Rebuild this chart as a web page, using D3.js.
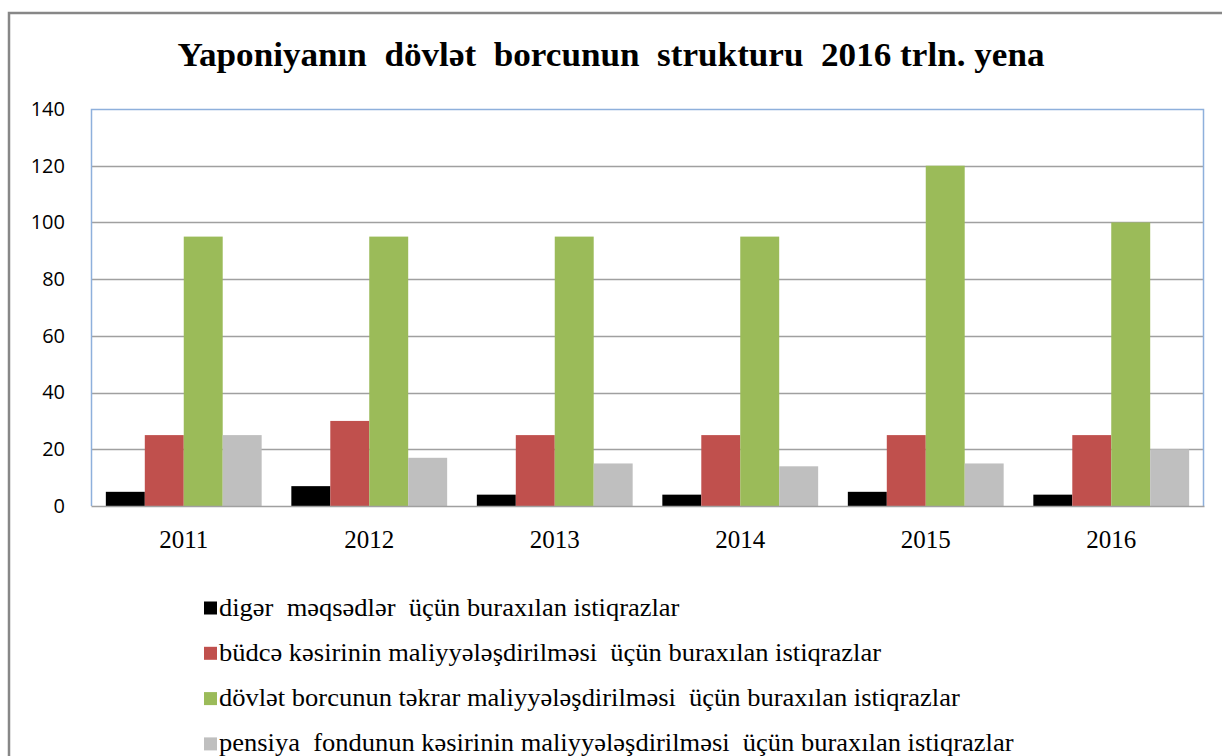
<!DOCTYPE html>
<html>
<head>
<meta charset="utf-8">
<script src="https://cdn.jsdelivr.net/npm/d3@7"></script>
<style>
  body { margin: 0; background: #fff; }
  svg { display: block; }
</style>
</head>
<body>
<svg id="chart" width="1222" height="756"></svg>
<script>
// illerin siyahisi
var years = ['2011', '2012', '2013', '2014', '2015', '2016'];
var seriesNames = [
  'digər  məqsədlər  üçün buraxılan istiqrazlar',
  'büdcə kəsirinin maliyyələşdirilməsi  üçün buraxılan istiqrazlar',
  'dövlət borcunun təkrar maliyyələşdirilməsi  üçün buraxılan istiqrazlar',
  'pensiya  fondunun kəsirinin maliyyələşdirilməsi  üçün buraxılan istiqrazlar'
];
var digerVals   = [5, 7, 4, 4, 5, 4];
var budceVals   = [25, 30, 25, 25, 25, 25];
var borcVals    = [95, 95, 95, 95, 120, 100];
var pensiyaVals = [25, 17, 15, 14, 15, 20];
var yTicks = [0, 20, 40, 60, 80, 100, 120, 140];
var colors = ['#000000', '#c0504d', '#9bbb59', '#bfbfbf'];

var seriesVals = [digerVals, budceVals, borcVals, pensiyaVals];
var serif = '"Liberation Serif", "Times New Roman", serif';

// ikiqat bosluqlari saxlamaq ucun
function nbsp(s) { return s.replace(/  /g, ' \u00a0'); }

var svg = d3.select('#chart');

// xarici cercive
svg.append('path')
  .attr('d', 'M9,760 L9,13 L1230,13')
  .attr('fill', 'none')
  .attr('stroke', '#878787')
  .attr('stroke-width', 2.5);

// basliq
svg.append('text')
  .attr('x', 611)
  .attr('y', 66)
  .attr('text-anchor', 'middle')
  .attr('font-weight', 'bold')
  .attr('font-size', 33)
  .attr('textLength', 867)
  .attr('lengthAdjust', 'spacingAndGlyphs')
  .style('font-family', serif)
  .text(nbsp('Yaponiyanın  dövlət  borcunun  strukturu  2016 trln. yena'));

var margin = {top: 109, left: 91},
  width = 1204 - 91,
  height = 506 - 109;

var x = d3.scaleBand()
  .domain(years)
  .range([0, width])
  .paddingInner(0.16)
  .paddingOuter(0.08);

var x1 = d3.scaleBand()
  .domain(d3.range(seriesVals.length))
  .range([0, x.bandwidth()]);

var y = d3.scaleLinear()
  .domain([0, 140])
  .range([height, 0]);

var container = svg.append('g')
  .attr('transform', 'translate(' + margin.left + ',' + margin.top + ')');

// grid xetleri
container.append('g')
  .selectAll('line')
  .data(yTicks.filter(function(d) { return d > 0 && d < 140; }))
  .enter().append('line')
  .attr('x1', 0)
  .attr('x2', width)
  .attr('y1', function(d) { return Math.round(y(d)) + 0.5; })
  .attr('y2', function(d) { return Math.round(y(d)) + 0.5; })
  .attr('stroke', '#a0a0a0')
  .attr('stroke-width', 1.3);

// plot sahesinin cercivesi
container.append('path')
  .attr('d', 'M0.5,' + height + ' L0.5,0.5 L' + (width - 0.5) + ',0.5 L' + (width - 0.5) + ',' + height)
  .attr('fill', 'none')
  .attr('stroke', '#8eb0dc')
  .attr('stroke-width', 1.5);

// sutunlar
seriesVals.forEach(function(vals, i) {
  container.selectAll('.bar-' + i)
    .data(vals)
    .enter().append('rect')
    .attr('class', 'bar-' + i)
    .attr('x', function(d, j) { return x(years[j]) + x1(i); })
    .attr('y', function(d) { return y(d); })
    .attr('width', x1.bandwidth())
    .attr('height', function(d) { return height - y(d); })
    .attr('fill', colors[i]);
});

// x oxu
var xAxis = d3.axisBottom(x).tickSize(0).tickPadding(24);
var gx = container.append('g')
  .attr('transform', 'translate(0,' + height + ')')
  .call(xAxis);
gx.select('.domain').attr('stroke', '#a0a0a0').attr('stroke-width', 1.5);
gx.selectAll('text')
  .style('font-family', serif)
  .attr('font-size', 25)
  .attr('fill', '#000');

// y oxu
var yAxis = d3.axisLeft(y).tickValues(yTicks).tickSize(0).tickPadding(26);
var gy = container.append('g').call(yAxis);
gy.select('.domain').remove();
gy.selectAll('text')
  .style('font-family', '"Open Sans", sans-serif')
  .attr('font-size', 20)
  .attr('fill', '#000');

// legend
var legend = svg.append('g')
  .selectAll('g')
  .data(seriesNames)
  .enter().append('g')
  .attr('transform', function(d, i) { return 'translate(204,' + (601.5 + i * 45.3) + ')'; });

legend.append('rect')
  .attr('width', 13)
  .attr('height', 13)
  .attr('fill', function(d, i) { return colors[i]; });

legend.append('text')
  .attr('transform', 'translate(15,14) scale(1.06,1)')
  .attr('font-size', 25)
  .attr('fill', '#000')
  .style('font-family', serif)
  .text(function(d) { return nbsp(d); });
</script>
</body>
</html>
